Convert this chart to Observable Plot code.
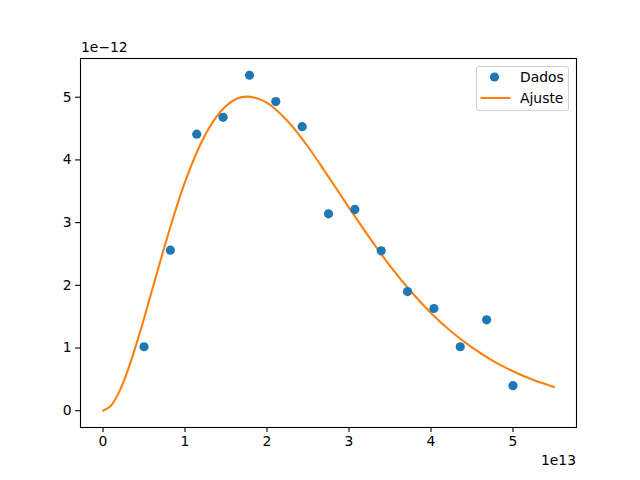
<!DOCTYPE html>
<html>
<head>
<meta charset="utf-8">
<script src="https://cdn.jsdelivr.net/npm/d3@7"></script>
<script src="https://cdn.jsdelivr.net/npm/@observablehq/plot@0.6"></script>
<style>
  html, body { margin: 0; padding: 0; background: #fff; }
  #wrap { position: relative; width: 640px; height: 480px; font-family: "DejaVu Sans", sans-serif; }
  .offset { position: absolute; font-size: 13.9px; color: #000; line-height: 1; white-space: nowrap; }
  #legend { position: absolute; left: 476px; top: 66px; width: 93px; height: 45px;
            border: 1px solid rgba(204,204,204,0.9); border-radius: 3px; background: rgba(255,255,255,0.8);
            box-sizing: border-box; font-size: 13.9px; }
  #legend .row { position: absolute; left: 0; height: 18px; width: 100%; }
  #legend .lab { position: absolute; left: 43px; top: 0; line-height: 18px; }
  #legend svg { position: absolute; left: 0; top: 0; }
</style>
</head>
<body>
<div id="wrap"></div>
<script>
// Measured data (x in Hz, y in intensity units)
const dataX = [0.5e13, 0.821e13, 1.143e13, 1.464e13, 1.786e13, 2.107e13, 2.429e13, 2.75e13,
               3.071e13, 3.393e13, 3.714e13, 4.036e13, 4.357e13, 4.679e13, 5.0e13];
const dataY = [1.02e-12, 2.56e-12, 4.41e-12, 4.68e-12, 5.35e-12, 4.93e-12, 4.53e-12, 3.14e-12,
               3.21e-12, 2.55e-12, 1.90e-12, 1.63e-12, 1.02e-12, 1.45e-12, 0.40e-12];

// Fitted curve
const fitX = [0, 0.1e13, 0.25e13, 0.375e13, 0.5e13, 0.625e13, 0.75e13, 1.0e13, 1.25e13, 1.5e13, 1.75e13, 2.0e13, 2.25e13,
              2.5e13, 2.75e13, 3.0e13, 3.25e13, 3.5e13, 3.75e13, 4.0e13, 4.25e13, 4.5e13,
              4.75e13, 5.0e13, 5.25e13, 5.5e13];
const fitY = [0, 0.085e-12, 0.46e-12, 0.93e-12, 1.47e-12, 2.05e-12, 2.62e-12, 3.65e-12, 4.41e-12, 4.86e-12, 5.01e-12, 4.91e-12,
              4.62e-12, 4.21e-12, 3.73e-12, 3.24e-12, 2.76e-12, 2.31e-12, 1.91e-12, 1.56e-12,
              1.26e-12, 1.01e-12, 0.80e-12, 0.63e-12, 0.49e-12, 0.38e-12];

const xTicks = [0, 1e13, 2e13, 3e13, 4e13, 5e13];
const yTicks = [0, 1e-12, 2e-12, 3e-12, 4e-12, 5e-12];
const legendLabels = ["Dados", "Ajuste"];
const xOffsetLabel = "1e13";
const yOffsetLabel = "1e\u221212";

const points = dataX.map((x, i) => ({x, y: dataY[i]}));
const fit = fitX.map((x, i) => ({x, y: fitY[i]}));

const blue = "#1f77b4", orange = "#ff7f0e";

const chart = Plot.plot({
  width: 640,
  height: 480,
  marginLeft: 80,
  marginRight: 64,
  marginTop: 58,
  marginBottom: 53,
  style: { fontFamily: "DejaVu Sans, sans-serif", fontSize: "13.9px", color: "#000", background: "#fff", overflow: "visible" },
  x: { domain: [-0.275e13, 5.775e13], label: null },
  y: { domain: [-0.2675e-12, 5.6175e-12], label: null },
  marks: [
    Plot.axisX({ticks: xTicks, tickFormat: d => String(Math.round(d / 1e13)), tickSize: 4.9, tickPadding: 4, fontSize: 13.9, label: null, strokeWidth: 1.1}),
    Plot.axisY({ticks: yTicks, tickFormat: d => String(Math.round(d / 1e-12)), tickSize: 4.9, tickPadding: 4, fontSize: 13.9, label: null, strokeWidth: 1.1}),
    Plot.line(fit, {x: "x", y: "y", stroke: orange, strokeWidth: 2.1, curve: "monotone-x"}),
    Plot.dot(points, {x: "x", y: "y", r: 4.6, fill: blue, stroke: "none"}),
    Plot.frame({stroke: "#000", strokeWidth: 1.1})
  ]
});

const wrap = document.getElementById("wrap");
wrap.appendChild(chart);

const yOff = document.createElement("div");
yOff.className = "offset";
yOff.style.left = "81px";
yOff.style.top = "41px";
yOff.textContent = yOffsetLabel;
wrap.appendChild(yOff);

const xOff = document.createElement("div");
xOff.className = "offset";
xOff.style.right = (640 - 576) + "px";
xOff.style.top = "454px";
xOff.textContent = xOffsetLabel;
wrap.appendChild(xOff);

const legend = document.createElement("div");
legend.id = "legend";
legend.innerHTML = `
  <div class="row" style="top:1px">
    <svg width="40" height="18"><circle cx="17.5" cy="9" r="4.6" fill="${blue}"/></svg>
    <span class="lab">${legendLabels[0]}</span>
  </div>
  <div class="row" style="top:22px">
    <svg width="40" height="18"><line x1="3.5" x2="33.5" y1="9" y2="9" stroke="${orange}" stroke-width="2.1"/></svg>
    <span class="lab">${legendLabels[1]}</span>
  </div>`;
wrap.appendChild(legend);
</script>
</body>
</html>
